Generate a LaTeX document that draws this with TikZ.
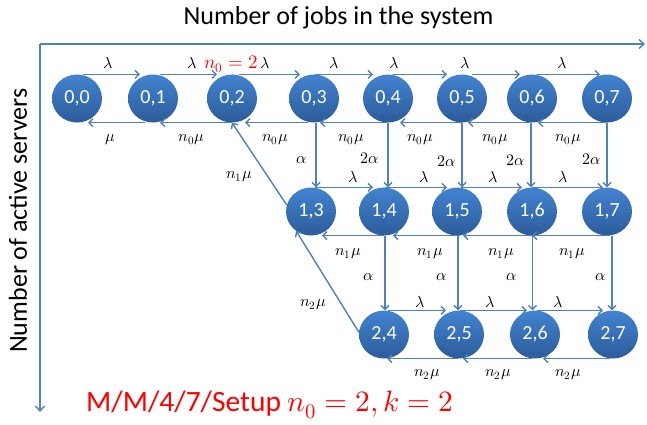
\documentclass[tikz,border=0pt]{standalone}
\usepackage{fontspec}
\usepackage{unicode-math}
\setmainfont{Carlito}
\setmathfont{Latin Modern Math}
\usetikzlibrary{shapes.geometric,arrows.meta}
\definecolor{lnblue}{HTML}{4F81BD}
\definecolor{ctop}{HTML}{4283D0}
\definecolor{cbot}{HTML}{2C5C9A}
\begin{document}
\begin{tikzpicture}[x=1pt,y=-1pt,
  st/.style={ellipse, minimum width=50pt, minimum height=48pt, inner sep=0pt,
    top color=ctop, bottom color=cbot, text=white, font=\fontsize{20}{24}\selectfont},
  arr/.style={draw=lnblue, line width=1.4pt, -{Straight Barb[length=4pt,width=8pt]}},
  axisln/.style={draw=lnblue, line width=1.4pt, -{Straight Barb[length=5pt,width=9pt]}},
  lab/.style={anchor=base, inner sep=0pt, font=\fontsize{16}{19}\selectfont},
]
\useasboundingbox (0,0) rectangle (647,424);

% titles
\node[anchor=base, inner sep=0pt, font=\fontsize{26}{30}\selectfont] (title) at (338.5,24) {Number of jobs in the system};
\node[rotate=90, anchor=base west, inner sep=0pt, font=\fontsize{26}{30}\selectfont] (ylab) at (27,353) {Number of active servers};

% axes
\coordinate (o) at (40,44);
\coordinate (xe) at (645,44);
\coordinate (ye) at (40,412);
\draw[axisln] (o) -- (xe);
\draw[axisln] (o) -- (ye);

% states row 0
\node[st] (n00) at (77,98.5) {0,0};
\node[st] (n01) at (153,98.5) {0,1};
\node[st] (n02) at (232,98.5) {0,2};
\node[st] (n03) at (314,98.5) {0,3};
\node[st] (n04) at (388,98.5) {0,4};
\node[st] (n05) at (462,98.5) {0,5};
\node[st] (n06) at (532,98.5) {0,6};
\node[st] (n07) at (607,98.5) {0,7};
% row 1
\node[st] (n13) at (311,211.5) {1,3};
\node[st] (n14) at (384,211.5) {1,4};
\node[st] (n15) at (457,211.5) {1,5};
\node[st] (n16) at (532,211.5) {1,6};
\node[st] (n17) at (607,211.5) {1,7};
% row 2
\node[st] (n24) at (384,334.5) {2,4};
\node[st] (n25) at (459,334.5) {2,5};
\node[st] (n26) at (535,334.5) {2,6};
\node[st] (n27) at (613,334.5) {2,7};

% row 0 arrivals
\draw[arr] ([xshift=6]n00.north) -- ([xshift=-13]n01.north);
\draw[arr] ([xshift=7]n01.north) -- ([xshift=-15]n02.north);
\draw[arr] ([xshift=7]n02.north) -- ([xshift=-14]n03.north);
\draw[arr] ([xshift=1]n03.north) -- ([xshift=-15]n04.north);
\draw[arr] ([xshift=5]n04.north) -- ([xshift=-15]n05.north);
\draw[arr] ([xshift=10]n05.north) -- ([xshift=-12]n06.north);
\draw[arr] ([xshift=5]n06.north) -- ([xshift=-7]n07.north);
% row 0 departures
\draw[arr] ([xshift=-8]n01.south) -- ([xshift=11]n00.south);
\draw[arr] (n02.south) -- ([xshift=7]n01.south);
\draw[arr] ([xshift=-6]n03.south) -- ([xshift=13]n02.south);
\draw[arr] ([xshift=-1]n04.south) -- ([xshift=6]n03.south);
\draw[arr] (n05.south) -- ([xshift=12]n04.south);
\draw[arr] ([xshift=-2]n06.south) -- ([xshift=6]n05.south);
\draw[arr] (n07.south) -- ([xshift=6]n06.south);
% setup row 0 -> row 1
\draw[arr] ([xshift=2]n03.south) -- ([xshift=2]n03.south |- n13.north);
\draw[arr] (n04.south) -- (n04.south |- n14.north);
\draw[arr] (n05.south) -- (n05.south |- n15.north);
\draw[arr] ([xshift=-1]n06.south) -- ([xshift=-1]n06.south |- n16.north);
\draw[arr] (n07.south) -- (n07.south |- n17.north);
% row 1 arrivals
\draw[arr] ([xshift=4]n13.north) -- ([xshift=-11]n14.north);
\draw[arr] ([xshift=1]n14.north) -- ([xshift=-10]n15.north);
\draw[arr] ([xshift=4]n15.north) -- ([xshift=-10]n16.north);
\draw[arr] (n16.north) -- ([xshift=-4]n17.north);
% row 1 departures
\draw[arr] (n14.south) -- ([xshift=11]n13.south);
\draw[arr] ([xshift=3]n15.south) -- ([xshift=9]n14.south);
\draw[arr] ([xshift=1]n16.south) -- ([xshift=6]n15.south);
\draw[arr] ([xshift=3]n17.south) -- (n16.south);
% setup row 1 -> row 2
\draw[arr] ([xshift=1]n14.south) -- ([xshift=1]n14.south |- n24.north);
\draw[arr] ([xshift=1]n15.south) -- ([xshift=1]n15.south |- n25.north);
\draw[arr] ([xshift=0.5]n16.south) -- ([xshift=0.5]n16.south |- n26.north);
\draw[arr] ([xshift=5]n17.south) -- ([xshift=5]n17.south |- n27.north);
% row 2 arrivals
\draw[arr] ([xshift=4]n24.north) -- ([xshift=-13]n25.north);
\draw[arr] ([xshift=1]n25.north) -- ([xshift=-8]n26.north);
\draw[arr] ([xshift=2]n26.north) -- ([xshift=-10]n27.north);
% row 2 departures
\draw[arr] ([xshift=-1]n25.south) -- ([xshift=3]n24.south);
\draw[arr] ([xshift=-3]n26.south) -- ([xshift=4]n25.south);
\draw[arr] ([xshift=-3]n27.south) -- ([xshift=8]n26.south);
% diagonal departures
\draw[arr] (n13.165) -- (n02.south);
\draw[arr] (n24.175) -- (n13.233);

% labels row 0
\node[lab] (l01) at (108.5,68) {$\lambda$};
\node[lab] (l12) at (192.5,68) {$\lambda$};
\node[lab, text=red, font=\fontsize{19}{21}\selectfont] (nz) at (231,68) {$n_0=2$};
\node[lab] (l23) at (265.5,68) {$\lambda$};
\node[lab] (l34) at (334,68) {$\lambda$};
\node[lab] (l45) at (394,68) {$\lambda$};
\node[lab] (l56) at (465,68) {$\lambda$};
\node[lab] (l67) at (562,68) {$\lambda$};
\node[lab] (m10) at (110,141) {$\mu$};
\node[lab] (m21) at (191.5,141) {$n_0\mu$};
\node[lab] (m32) at (275,141) {$n_0\mu$};
\node[lab] (m43) at (351,141) {$n_0\mu$};
\node[lab] (m54) at (420,141) {$n_0\mu$};
\node[lab] (m65) at (495,141) {$n_0\mu$};
\node[lab] (m76) at (568,141) {$n_0\mu$};
% setup labels row 0 -> 1
\node[lab] (a3) at (302,163) {$\alpha$};
\node[lab] (a4) at (369.5,163) {$2\alpha$};
\node[lab] (a5) at (447,166) {$2\alpha$};
\node[lab] (a6) at (516,165) {$2\alpha$};
\node[lab] (a7) at (591.5,164) {$2\alpha$};
\node[lab] (d1) at (239,178) {$n_1\mu$};
% row 1 labels
\node[lab] (r1a) at (353,182) {$\lambda$};
\node[lab] (r1b) at (424,182) {$\lambda$};
\node[lab] (r1c) at (493,182) {$\lambda$};
\node[lab] (r1d) at (563,182) {$\lambda$};
\node[lab] (s1a) at (348,255) {$n_1\mu$};
\node[lab] (s1b) at (430,255) {$n_1\mu$};
\node[lab] (s1c) at (501,255) {$n_1\mu$};
\node[lab] (s1d) at (572,255) {$n_1\mu$};
% setup labels row 1 -> 2
\node[lab] (b4) at (369,280) {$\alpha$};
\node[lab] (b5) at (442,280) {$\alpha$};
\node[lab] (b6) at (512,280) {$\alpha$};
\node[lab] (b7) at (601,280) {$\alpha$};
\node[lab] (d2) at (313,306) {$n_2\mu$};
% row 2 labels
\node[lab] (r2a) at (420,307) {$\lambda$};
\node[lab] (r2b) at (490,307) {$\lambda$};
\node[lab] (r2c) at (558,307) {$\lambda$};
\node[lab] (s2a) at (427,376) {$n_2\mu$};
\node[lab] (s2b) at (498,376) {$n_2\mu$};
\node[lab] (s2c) at (568,376) {$n_2\mu$};

% caption
\node[anchor=base west, inner sep=0pt, text=red, font=\fontsize{29.5}{34}\selectfont] (cap) at (86,411) {M/M/4/7/Setup $n_0=2,k=2$};
\end{tikzpicture}
\end{document}
